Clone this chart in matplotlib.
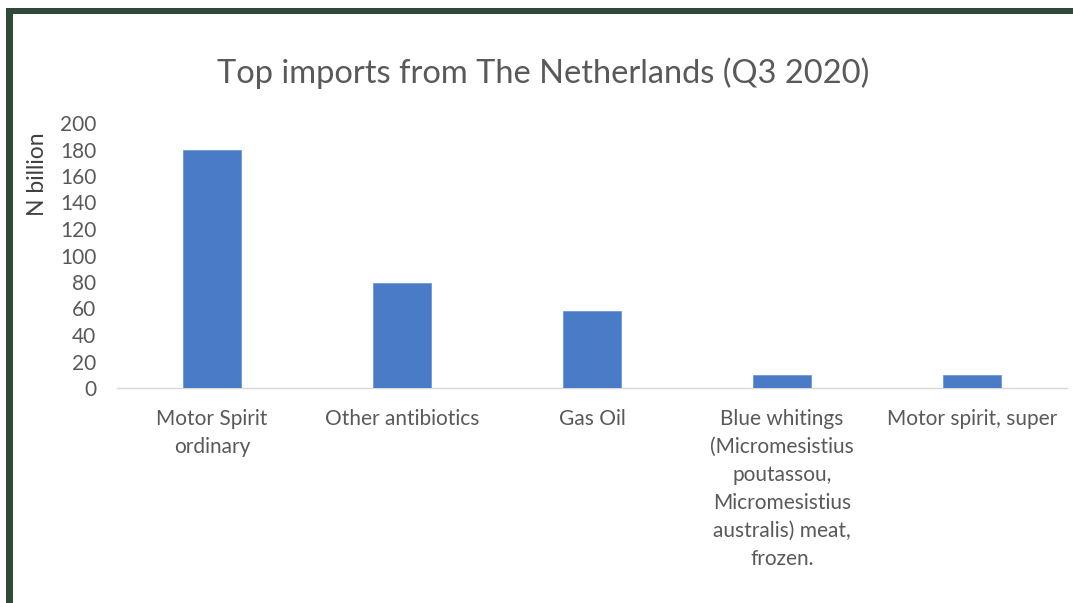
import matplotlib
matplotlib.use("Agg")
import matplotlib.pyplot as plt
from matplotlib.patches import Rectangle

categories = [
    "Motor Spirit\nordinary",
    "Other antibiotics",
    "Gas Oil",
    "Blue whitings\n(Micromesistius\npoutassou,\nMicromesistius\naustralis) meat,\nfrozen.",
    "Motor spirit, super",
]
values = [180, 79, 58, 10, 10]
yticks = list(range(0, 201, 20))

plt.rcParams['font.family'] = ['Lato', 'DejaVu Sans']

W, H = 1073, 603
fig = plt.figure(figsize=(W / 100, H / 100), dpi=100)
fig.patch.set_facecolor('white')

# dark green frame (top and left)
border = '#2f4a3a'
fig.patches.append(Rectangle((6 / W, 1 - 14 / H), 1 - 6 / W, 6 / H, transform=fig.transFigure,
                             facecolor=border, edgecolor='none'))
fig.patches.append(Rectangle((6 / W, 0), 7 / W, 1 - 8 / H, transform=fig.transFigure,
                             facecolor=border, edgecolor='none'))

ax = fig.add_axes([117 / W, 1 - 388 / H, (1067 - 117) / W, (388 - 123) / H])
x = list(range(len(categories)))
ax.bar(x, values, width=0.31, color='#4a7bc7', edgecolor='#6f98d6', linewidth=0.6, zorder=3)
ax.set_xlim(-0.5, len(categories) - 0.5)
ax.set_ylim(0, 200)
ax.set_yticks(yticks)
ax.set_yticklabels([str(v) for v in yticks], fontsize=15, color='#595959')
ax.set_xticks(x)
ax.set_xticklabels(categories, fontsize=15, color='#595959', linespacing=1.5, va='top')
ax.tick_params(axis='both', length=0)
ax.tick_params(axis='x', pad=15)
ax.tick_params(axis='y', pad=15)
for s in ['top', 'right', 'left']:
    ax.spines[s].set_visible(False)
ax.spines['bottom'].set_color('#d9d9d9')
ax.spines['bottom'].set_linewidth(1.0)

fig.text(543 / W, 1 - 73 / H, "Top imports from The Netherlands (Q3 2020)", fontsize=23.5,
         color='#595959', ha='center', va='center')
fig.text(37 / W, 1 - 174 / H, "N billion", fontsize=16.5, color='#404040', rotation=90,
         ha='center', va='center')

fig.savefig("out.png", dpi=100)
